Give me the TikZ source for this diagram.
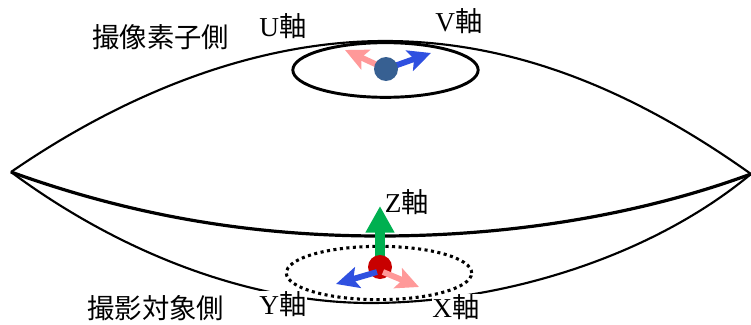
\documentclass[tikz,border=0pt]{standalone}
\usepackage{fontspec}
\setmainfont{Liberation Serif}
\newfontfamily\cjkjp{Noto Sans CJK JP}
\usetikzlibrary{arrows.meta,shapes.geometric}
\definecolor{axpink}{HTML}{FF9999}
\definecolor{axblue}{HTML}{2F50E0}
\definecolor{axgreen}{HTML}{00B050}
\definecolor{ptred}{HTML}{C80000}
\definecolor{ptblue}{HTML}{376092}
\tikzset{
  px/.style={x=0.75pt,y=-0.75pt},
  lens/.style={draw=black,line width=1.6pt,line join=round},
  lensmid/.style={draw=black,line width=2.4pt},
  ring/.style={draw=black,line width=2.2pt,ellipse,inner sep=0pt,minimum width=139pt,minimum height=41pt},
  dotring/.style={draw=black,line width=2.3pt,dash pattern=on 2.3pt off 2.6pt,ellipse,inner sep=0pt,minimum width=139pt,minimum height=40pt},
  smallax/.style={line width=4.4pt,-{Stealth[length=17pt,width=16pt,inset=3.5pt]}},
  bigax/.style={line width=6.8pt,-{Triangle[length=20pt,width=20.5pt]}},
  ptdot/.style={circle,inner sep=0pt,minimum size=18pt},
  lab/.style={font=\fontsize{20.5pt}{22pt}\selectfont,inner sep=0.5pt},
  labw/.style={lab,fill=white},
}
\newcommand{\jl}[2]{#1{\cjkjp #2}}
\begin{document}
\begin{tikzpicture}[px]
\useasboundingbox (0,0) rectangle (751,325);
\coordinate (L) at (11,172);
\coordinate (R) at (751,174);
\coordinate (T) at (385,41);
\coordinate (M) at (380,236);
\coordinate (B) at (370,303);
\draw[lens] (L) .. controls (130,90) and (260,41) .. (T) .. controls (520,41) and (640,95) .. (R);
\draw[lens] (L) .. controls (130,260) and (260,303) .. (B) .. controls (500,303) and (650,258) .. (R);
\draw[lensmid] (L) .. controls (130,215) and (250,236) .. (M) .. controls (510,236) and (640,215) .. (R);
% labels
\node[lab] (ulab) at (283,26) {\jl{U}{軸}};
\node[lab] (vlab) at (459,21) {\jl{V}{軸}};
\node[lab] (zlab) at (407,202) {\jl{Z}{軸}};
\node[labw] (ylab) at (283,304) {\jl{Y}{軸}};
\node[labw] (xlab) at (456,307) {\jl{X}{軸}};
\node[lab] (top) at (161,37) {{\cjkjp 撮像素子側}};
\node[lab] (bot) at (156,308) {{\cjkjp 撮影対象側}};
% top group
\node[ring] (topring) at (385.5,70) {};
\coordinate (utip) at (345,50);
\coordinate (vtip) at (431,53);
\coordinate (topc) at (386,69);
\draw[smallax,axpink] (topc) -- (utip);
\draw[smallax,axblue] (topc) -- (vtip);
\node[ptdot,fill=ptblue] (imgpt) at (topc) {};
% bottom group
\node[dotring] (botring) at (379,273) {};
\coordinate (ztip) at (380,206);
\coordinate (xtip) at (419,287);
\coordinate (ytip) at (336,284);
\coordinate (botc) at (380,267);
\coordinate (xstart) at (383,272);
\coordinate (ystart) at (377,272);
\draw[bigax,axgreen] (botc) -- (ztip);
\node[ptdot,fill=ptred] (objpt) at (botc) {};
\draw[smallax,axpink] (xstart) -- (xtip);
\draw[smallax,axblue] (ystart) -- (ytip);
\end{tikzpicture}
\end{document}
